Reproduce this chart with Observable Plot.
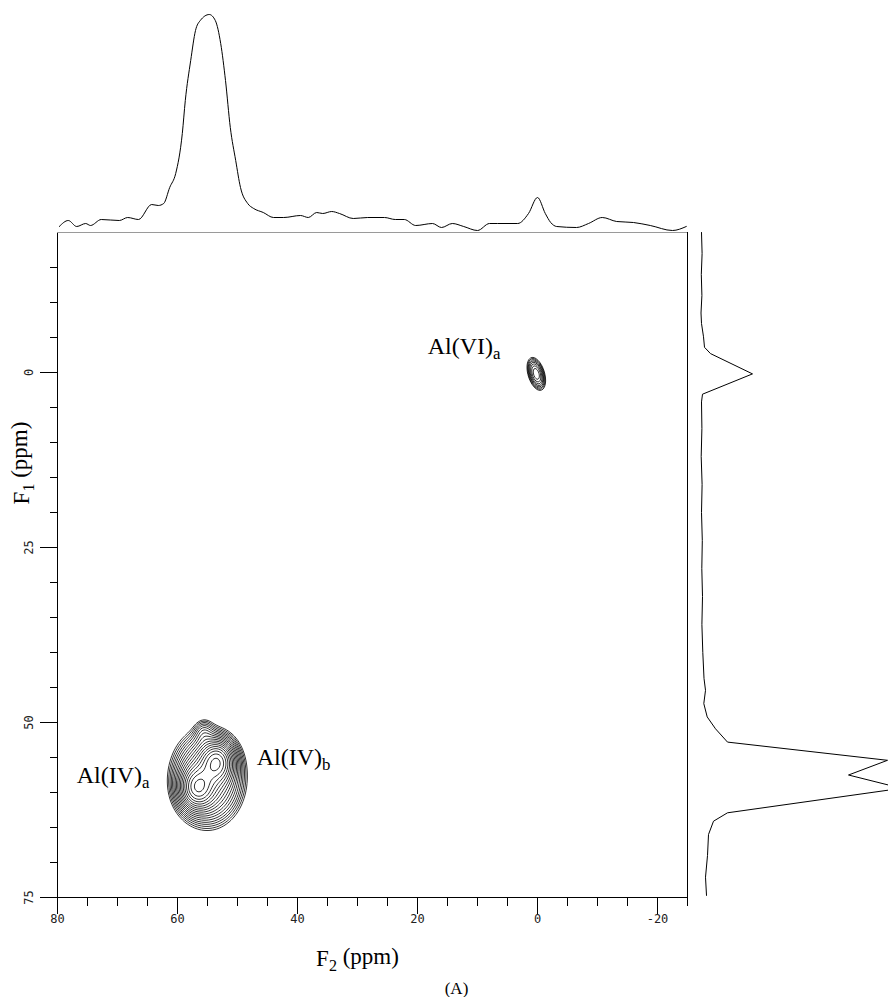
<!DOCTYPE html>
<html>
<head>
<meta charset="utf-8">
<script src="https://cdn.jsdelivr.net/npm/d3@7"></script>
<script src="https://cdn.jsdelivr.net/npm/@observablehq/plot@0.6"></script>
<style>
  html, body { margin: 0; padding: 0; background: white; overflow: hidden; }
  #wrap { position: relative; width: 888px; height: 997px; overflow: hidden; background: white; }
  #wrap svg { position: absolute; top: 0; }
</style>
</head>
<body>
<div id="wrap"></div>
<script>
// ---- axis ticks (ppm) ----
const xMajor = [80, 60, 40, 20, 0, -20];
const xMinor = [75, 70, 65, 55, 50, 45, 35, 30, 25, 15, 10, 5, -5, -10, -15, -25];
const yMajor = [0, 25, 50, 75];
const yMinor = [-15, -10, -5, 5, 10, 15, 20, 30, 35, 40, 45, 55, 60, 65, 70];

// ---- F2 projection (top trace) ----
const topF2 = [79.7, 78.2, 76.8, 75.3, 74.5, 72.7, 69.7, 68.3, 66.5, 64.3, 63.2, 62.3, 61.3, 60.3, 59.2, 58.7, 57.8, 57, 56.2, 54.7, 53.7, 52.8, 52, 51.2, 50.3, 49.5, 48.3, 47.3, 45.7, 44, 42.3, 39.5, 38.2, 36.8, 35.8, 34.3, 33, 30.7, 28.3, 25.5, 23.7, 22.2, 20.3, 17.5, 16, 14.2, 12.3, 10, 8, 6.7, 3.3, 1.5, 0, -1.3, -2.2, -3.2, -6.5, -8.5, -10.8, -13.2, -16, -18.8, -22.5, -24.8];
const topIntensity = [4, 10, 4, 7, 5, 11, 10, 13, 11, 26, 25, 27, 43, 57, 97, 130, 170, 200, 210, 216, 210, 187, 150, 103, 70, 43, 27, 22, 18, 13, 13, 15, 13, 18, 17, 19, 17, 12, 13, 13, 11, 11, 5, 7, 3, 7, 4, 0, 7, 7, 7, 17, 33, 17, 8, 4, 3, 7, 13, 9, 8, 5, 0, 4];

// ---- F1 projection (right trace) ----
const rightF1 = [-20, -17, -14, -11, -8.5, -7, -5.1, -3.6, -2.7, 0.2, 3.1, 4.2, 8, 12, 16, 20, 24, 28, 32, 36, 40, 43.7, 45.4, 47.3, 49.2, 50.9, 52.8, 55.4, 57.5, 59.4, 62.9, 64.1, 66, 69, 72.1, 74.7];
const rightIntensity = [0, 0.6, -0.2, 0.4, -0.5, 0, 2, 3, 9, 51, 1, 0, 0.4, -0.3, 0.6, 0, 0.8, 0.3, 1, 0.4, 1.3, 2.5, 4, 2.3, 5.7, 14, 26, 186, 147, 200, 26, 12, 7, 6, 4, 5];

// ---- 2D peaks ----
const peakName = ["Al(IV)a", "Al(IV)b", "Al(IV) envelope", "Al(IV) shoulder", "Al(VI)a"];
const peakF2 = [56.7, 53.4, 55.0, 55.6, 0.2];
const peakF1 = [59.3, 55.6, 58.0, 51.4, 0.2];
const peakWidthF2 = [1.6, 1.6, 3.2, 1.0, 0.96];
const peakWidthF1 = [1.7, 1.7, 3.6, 1.2, 1.46];
const peakAmp = [0.65, 0.7, 0.5, 0.08, 0.22];
const peakCorr = [0, 0, 0, 0, -0.4];
const contourLevels = [0.06, 0.071, 0.084, 0.099, 0.116, 0.137, 0.162, 0.191, 0.225, 0.266, 0.314, 0.37, 0.437, 0.516, 0.609, 0.718, 0.848, 1.0];

// ---- peak labels ----
const peakLabels = ["Al(VI)_a", "Al(IV)_b", "Al(IV)_a"];
const labelF2 = [18.3, 46.8, 76.8];
const labelF1 = [-2.7, 56.1, 58.6];

const serif = "'Liberation Serif', 'DejaVu Serif', serif";
const mono = "'DejaVu Sans Mono', 'Liberation Mono', monospace";

function intensity(f2, f1) {
  let s = 0;
  for (let i = 0; i < peakAmp.length; i++) {
    const u = (f2 - peakF2[i]) / peakWidthF2[i];
    const v = (f1 - peakF1[i]) / peakWidthF1[i];
    const r = peakCorr[i];
    s += peakAmp[i] * Math.exp(-(u * u - 2 * r * u * v + v * v) / (2 * (1 - r * r)));
  }
  return s;
}

const mainPlot = Plot.plot({
  width: 888, height: 997,
  marginLeft: 57, marginRight: 201, marginTop: 232, marginBottom: 100,
  x: {domain: [80, -25]},
  y: {domain: [75, -20]},
  style: {fontFamily: serif, background: "white", color: "black"},
  marks: [
    Plot.contour(null, {value: intensity, x1: 80, x2: -25, y1: -20, y2: 75, thresholds: contourLevels, stroke: "black", fill: "none", strokeWidth: 0.8, pixelSize: 1}),
    Plot.frame({stroke: "black"}),
    Plot.ruleY([-20], {stroke: "#9a9a9a"}),
    Plot.axisX(xMinor, {tickSize: 9, tickFormat: () => "", label: null}),
    Plot.axisX(xMajor, {tickSize: 17, tickFormat: () => "", label: null}),
    Plot.text(xMajor, {x: d => d, text: d => String(d), frameAnchor: "bottom", dy: 22, lineAnchor: "middle", fontFamily: mono, fontSize: 12, fill: "#222"}),
    Plot.axisY(yMinor, {tickSize: 7, tickFormat: () => "", label: null}),
    Plot.axisY(yMajor, {tickSize: 17, tickFormat: () => "", label: null}),
    Plot.text(yMajor, {y: d => d, text: d => String(d), frameAnchor: "left", dx: -28, rotate: -90, textAnchor: "middle", lineAnchor: "middle", fontFamily: mono, fontSize: 12, fill: "#222"}),
    Plot.text(peakLabels, {x: labelF2, y: labelF1, text: d => d, textAnchor: "start", lineAnchor: "bottom", fontSize: 24, fontFamily: serif}),
    Plot.text(["F_2 (ppm)"], {text: d => d, frameAnchor: "bottom", dx: -15, dy: 61, lineAnchor: "middle", fontSize: 23, fontFamily: serif}),
    Plot.text(["(A)"], {text: d => d, frameAnchor: "bottom", dx: 84, dy: 91, lineAnchor: "middle", fontSize: 17, fontFamily: serif}),
    Plot.text(["F_1 (ppm)"], {text: d => d, frameAnchor: "left", dx: -36, dy: -102, rotate: -90, textAnchor: "middle", lineAnchor: "middle", fontSize: 23, fontFamily: serif})
  ]
});

const topPlot = Plot.plot({
  width: 888, height: 232,
  marginLeft: 57, marginRight: 201, marginTop: 0, marginBottom: 0,
  x: {domain: [80, -25], axis: null},
  y: {domain: [-2, 230], axis: null},
  style: {background: "transparent", overflow: "visible"},
  marks: [
    Plot.line(topF2, {x: d => d, y: (d, i) => topIntensity[i], stroke: "black", strokeWidth: 1, curve: "monotone-x"})
  ]
});

const rightPlot = Plot.plot({
  width: 200, height: 997,
  marginLeft: 0, marginRight: 0, marginTop: 232, marginBottom: 100,
  x: {domain: [-13, 187], axis: null},
  y: {domain: [75, -20], axis: null},
  style: {background: "transparent", overflow: "visible"},
  marks: [
    Plot.line(rightF1, {y: d => d, x: (d, i) => rightIntensity[i], stroke: "black", strokeWidth: 1})
  ]
});

function applySubscripts(svg) {
  const ns = "http://www.w3.org/2000/svg";
  svg.querySelectorAll("text").forEach(t => {
    const s = t.textContent;
    if (!s.includes("_")) return;
    const parts = s.split(/_(.)/);
    t.textContent = "";
    parts.forEach((p, k) => {
      if (!p) return;
      const ts = document.createElementNS(ns, "tspan");
      ts.textContent = p;
      if (k % 2 === 1) {
        ts.setAttribute("font-size", "0.7em");
        ts.setAttribute("dy", "0.3em");
      } else if (k > 0) {
        ts.setAttribute("dy", "-0.3em");
      }
      t.appendChild(ts);
    });
  });
}
applySubscripts(mainPlot);

const wrap = document.getElementById("wrap");
mainPlot.style.left = "0px";
topPlot.style.left = "0px";
rightPlot.style.left = "688px";
wrap.appendChild(mainPlot);
wrap.appendChild(topPlot);
wrap.appendChild(rightPlot);
</script>
</body>
</html>
